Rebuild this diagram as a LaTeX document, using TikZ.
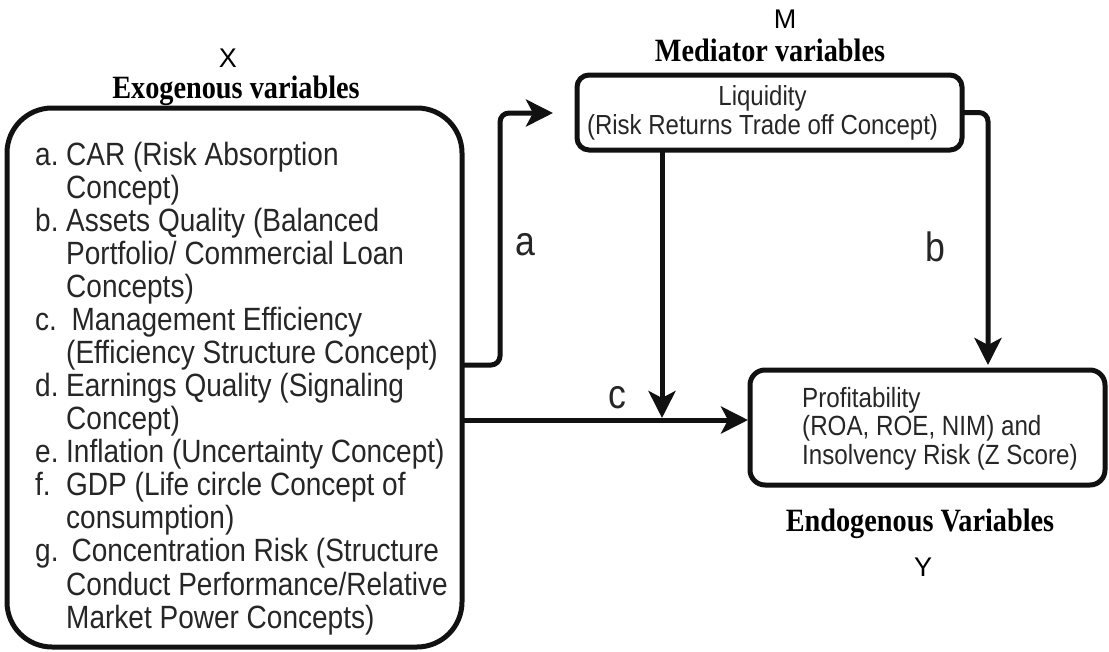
\documentclass[tikz,border=0pt]{standalone}
\usepackage{fontspec}
\setmainfont[FakeStretch=0.87]{Liberation Serif}
\setsansfont[FakeStretch=0.87]{Liberation Sans}
\newfontfamily\lettfont{Liberation Sans}
\usetikzlibrary{arrows.meta}
\newcommand\myfs[2]{\fontsize{#1}{#2}\selectfont}
\definecolor{txt}{HTML}{262626}
\definecolor{ln}{HTML}{111111}
\begin{document}
\begin{tikzpicture}[x=1pt,y=-1pt,
  box/.style={draw=ln,line width=5pt,rounded corners=#1,inner sep=0pt,outer sep=0pt},
  title/.style={font=\myfs{32.5}{36}\bfseries,text=black,inner sep=0pt},
  letter/.style={font=\myfs{27}{28}\lettfont,text=black,inner sep=0pt},
  lab/.style={font=\myfs{41}{44}\sffamily,text=txt,inner sep=0pt},
  arr/.style={draw=ln,line width=5pt,-{Stealth[length=27pt,width=27pt,inset=7pt]}}]
\useasboundingbox (0,0) rectangle (1109,651);
% boxes
\node[box=45,minimum width=455pt,minimum height=539pt] (X) at (234.5,377.5) {};
\node[box=12,minimum width=385pt,minimum height=75pt,align=center,
      font=\myfs{27.6}{29}\sffamily,text=txt] (M) at (769.5,112.5)
      {\hspace*{-14pt}Liquidity\\\hspace*{-14pt}(Risk Returns Trade off Concept)};
\node[box=15,minimum width=355pt,minimum height=115pt] (P) at (927.5,427.5) {};
% texts
\node[anchor=base west,inner sep=0pt,font=\myfs{32.2}{32.5}\sffamily,text=txt] (xlist) at (35,165)
{\begin{tabular}[t]{@{}p{31pt}@{}l@{}}
a. & CAR (Risk Absorption\\
   & Concept)\\
b. & Assets Quality (Balanced\\
   & Portfolio/ Commercial Loan\\
   & Concepts)\\
c. & \,Management Efficiency\\
   & (Efficiency Structure Concept)\\
d. & Earnings Quality (Signaling\\
   & Concept)\\
e. & Inflation (Uncertainty Concept)\\
f. & GDP (Life circle Concept of\\
   & consumption)\\
g. & \,Concentration Risk (Structure\\
   & Conduct Performance/Relative\\
   & Market Power Concepts)
\end{tabular}};
\node[anchor=west,inner sep=0pt,align=left,font=\myfs{27.8}{28.5}\sffamily,text=txt] (ptext) at (802,428.5)
{Profitability\\(ROA, ROE, NIM) and\\Insolvency Risk (Z Score)};
% titles
\node[letter] (xl) at (228,58) {X};
\node[title] (xt) at (236,91) {Exogenous variables};
\node[letter] (ml) at (785,19) {M};
\node[title] (mt) at (770,50) {Mediator variables};
\node[title] (pt) at (920,524) {Endogenous Variables};
\node[letter] (yl) at (923,567) {Y};
% connectors
\coordinate (aend) at (553,113);
\coordinate (cj) at (662,420);
\draw[arr,rounded corners=9pt] ([yshift=12.5pt]X.east) -- ++(38,0) |- (aend);
\draw[arr] ([xshift=-107.5pt]M.south) -- ([yshift=2pt]cj);
\draw[arr] (X.east |- cj) -- ([xshift=-2pt]P.west |- cj);
\draw[arr,rounded corners=9pt] (M.east) -| ([xshift=60.5pt,yshift=5pt]P.north);
% labels
\node[lab] (la) at (525,245) {a};
\node[lab] (lb) at (935,247) {b};
\node[lab] (lc) at (617,398) {c};
\end{tikzpicture}
\end{document}
